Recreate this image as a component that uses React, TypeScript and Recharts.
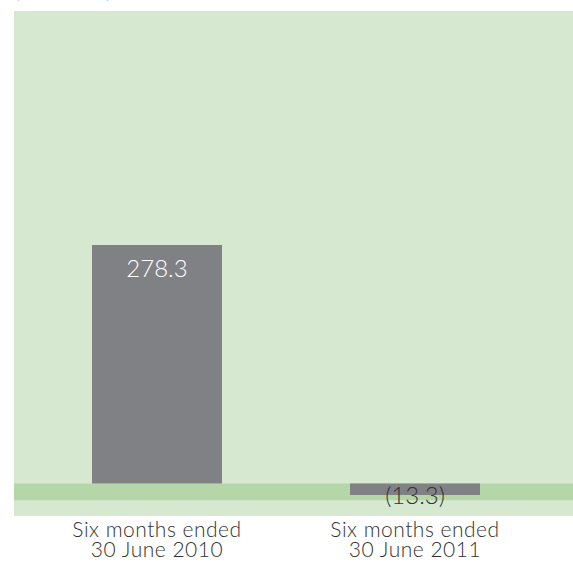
import { BarChart, Bar, XAxis, YAxis, CartesianGrid, ReferenceArea, LabelList } from "recharts";

const categories = ["Six months ended\n30 June 2010", "Six months ended\n30 June 2011"];
const values = [278.3, -13.3];
const valueLabels = ["278.3", "(13.3)"];

const data = categories.map((name, i) => ({ name, value: values[i], label: valueLabels[i] }));

const FONT = "Lato, 'Open Sans', sans-serif";

const CategoryTick = ({ x, y, payload }: any) => {
  const lines = String(payload.value).split("\n");
  return (
    <text x={x} y={y} textAnchor="middle" fill="#333333" fontFamily={FONT} fontSize={21} fontWeight={300} letterSpacing={0.5}>
      {lines.map((l, i) => (
        <tspan key={i} x={x} dy={i === 0 ? 13 : 20}>
          {l}
        </tspan>
      ))}
    </text>
  );
};

const ValueLabel = (props: any) => {
  const { x, y, width, height, value, index } = props;
  const neg = values[index] < 0;
  const cx = x + width / 2;
  if (neg) {
    const top = Math.min(y, y + height);
    return (
      <text x={cx} y={top + 20} textAnchor="middle" fill="#333333" fontFamily={FONT} fontSize={24} fontWeight={300}>
        {value}
      </text>
    );
  }
  return (
    <text x={cx} y={y + 32} textAnchor="middle" fill="#ffffff" fontFamily={FONT} fontSize={24} fontWeight={300}>
      {value}
    </text>
  );
};

// zero band spans the whole plot background, not just the padded x range
const ZeroBand = (props: any) => {
  const { y, height } = props;
  return <rect x={14} y={y} width={559} height={height} fill="#b5d6a7" />;
};

export default function App() {
  return (
    <div style={{ position: "absolute", left: 0, top: 0, width: 573, height: 565, background: "#ffffff", overflow: "hidden" }}>
      <svg width={573} height={12} style={{ position: "absolute", left: 0, top: 0 }}>
        <text x={15} y={-2} fill="#333333" fontFamily={FONT} fontSize={18} textLength={96}>
          (€ million)
        </text>
      </svg>
      <BarChart
        width={573}
        height={565}
        data={data}
        margin={{ top: 11, right: 0, left: 14, bottom: 0 }}
      >
        <CartesianGrid fill="#d6e8cf" stroke="none" vertical={false} horizontal={false} />
        <XAxis
          dataKey="name"
          axisLine={false}
          tickLine={false}
          height={49}
          padding={{ left: 14, right: 29 }}
          tick={<CategoryTick />}
          interval={0}
        />
        <YAxis hide domain={[-37.9, 551.4]} allowDataOverflow />
        <ReferenceArea y1={0} y2={-19.5} shape={<ZeroBand />} ifOverflow="visible" />
        <Bar dataKey="value" fill="#808184" barSize={130} isAnimationActive={false}>
          <LabelList dataKey="label" content={<ValueLabel />} />
        </Bar>
      </BarChart>
    </div>
  );
}
